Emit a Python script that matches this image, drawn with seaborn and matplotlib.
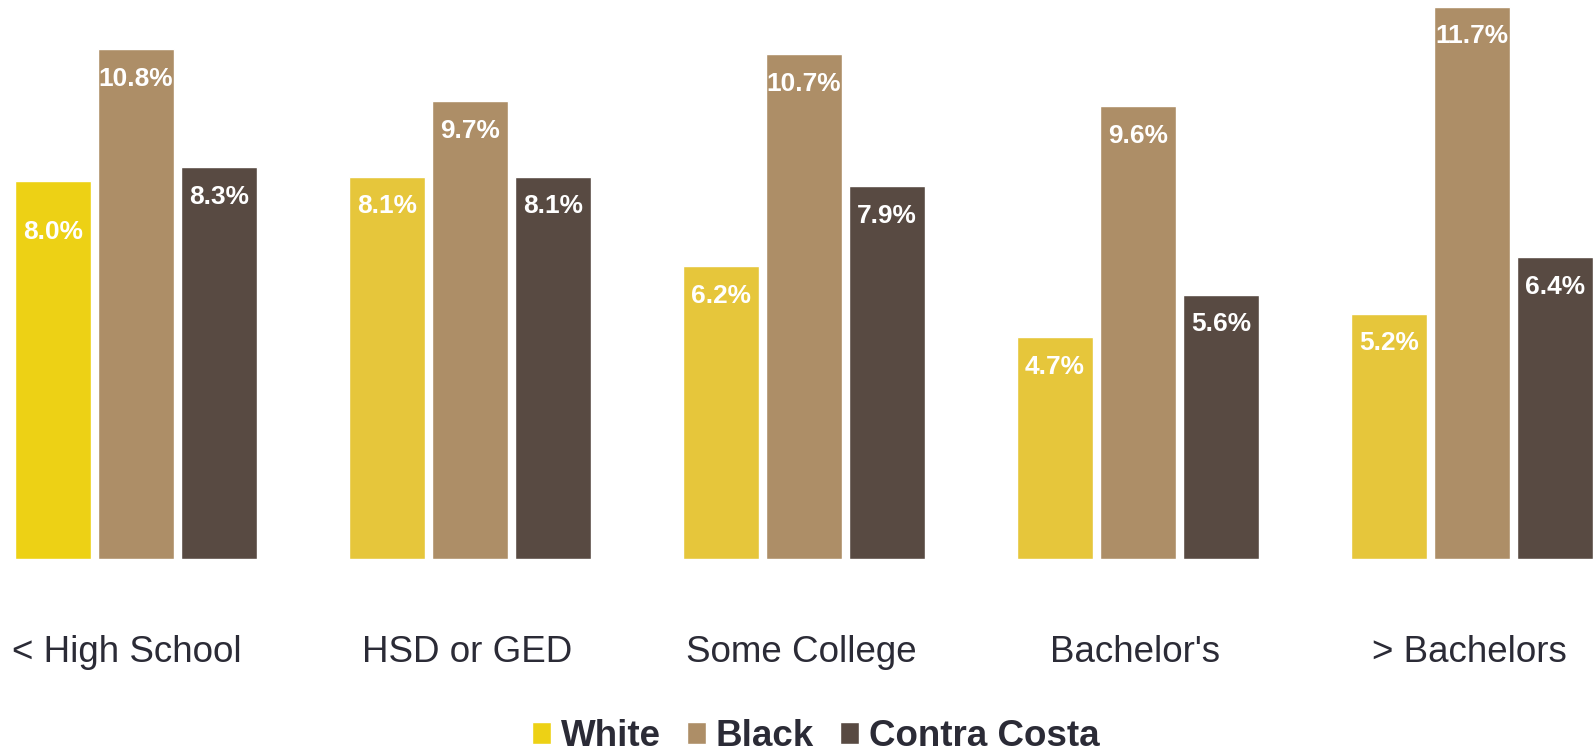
import pandas as pd
import numpy as np
import matplotlib
matplotlib.use("Agg")
import matplotlib.pyplot as plt
import matplotlib.transforms as mtransforms
from matplotlib.patches import Patch
import seaborn as sns

# data
categories = ["< High School", "HSD or GED", "Some College", "Bachelor's", "> Bachelors"]
groups = ["White", "Black", "Contra Costa"]
white = [8.0, 8.1, 6.2, 4.7, 5.2]
black = [10.8, 9.7, 10.7, 9.6, 11.7]
contra_costa = [8.3, 8.1, 7.9, 5.6, 6.4]

colors = {"White": "#EDD115", "Black": "#AD8E67", "Contra Costa": "#584A42"}
white_other = "#E6C63B"  # later white bars are a slightly duller yellow
text_col = "#2B2B36"

df = pd.DataFrame({
    "edu": categories * 3,
    "pct": white + black + contra_costa,
    "group": [g for g in groups for _ in categories],
})

sns.set_style("white")
plt.rcParams["font.family"] = ["Liberation Sans", "DejaVu Sans"]

fig = plt.figure(figsize=(15.93, 7.54), dpi=100)
ax = fig.add_axes([0, 0.2586, 1, 0.7414])

sns.barplot(data=df, x="edu", y="pct", hue="group", order=categories,
            hue_order=groups, palette=colors, width=0.7455, gap=0.085,
            saturation=1, legend=False, ax=ax)

# recolor white bars after the first group
for i, p in enumerate(ax.containers[0]):
    if i > 0:
        p.set_facecolor(white_other)

# value labels inside the top of each bar
for cont in ax.containers:
    for p in cont:
        h = p.get_height()
        off = -36.5 if (h == 8.0 and cont is ax.containers[0]) else -21.5
        ax.annotate(f"{h:.1f}%", (p.get_x() + p.get_width() / 2, h),
                    xytext=(0, off), textcoords="offset points",
                    ha="center", va="center", color="white",
                    fontsize=18.9, fontweight="bold")

ax.set_xlim(-0.407, 4.362)
ax.set_ylim(0, 11.84)
ax.set_xlabel("")
ax.set_ylabel("")
ax.set_yticks([])
ax.tick_params(axis="x", length=0, pad=54.5, labelsize=26.5, labelcolor=text_col)
shift = mtransforms.ScaledTranslation(-3 / 100, 0, fig.dpi_scale_trans)
for i, lbl in enumerate(ax.get_xticklabels()):
    s = mtransforms.ScaledTranslation(-9 / 100, 0, fig.dpi_scale_trans) if i == 0 else shift
    lbl.set_transform(lbl.get_transform() + s)
sns.despine(ax=ax, left=True, bottom=True)

handles = [Patch(facecolor=colors[g], label=g) for g in groups]
leg = fig.legend(handles=handles, loc="center", bbox_to_anchor=(0.512, 0.0235),
                 ncol=3, frameon=False, handlelength=0.52, handleheight=0.55,
                 handletextpad=0.27, columnspacing=0.7, borderpad=0.1,
                 prop={"size": 26.5, "weight": "bold"})
for t in leg.get_texts():
    t.set_color(text_col)

fig.savefig("out.png", dpi=100)
